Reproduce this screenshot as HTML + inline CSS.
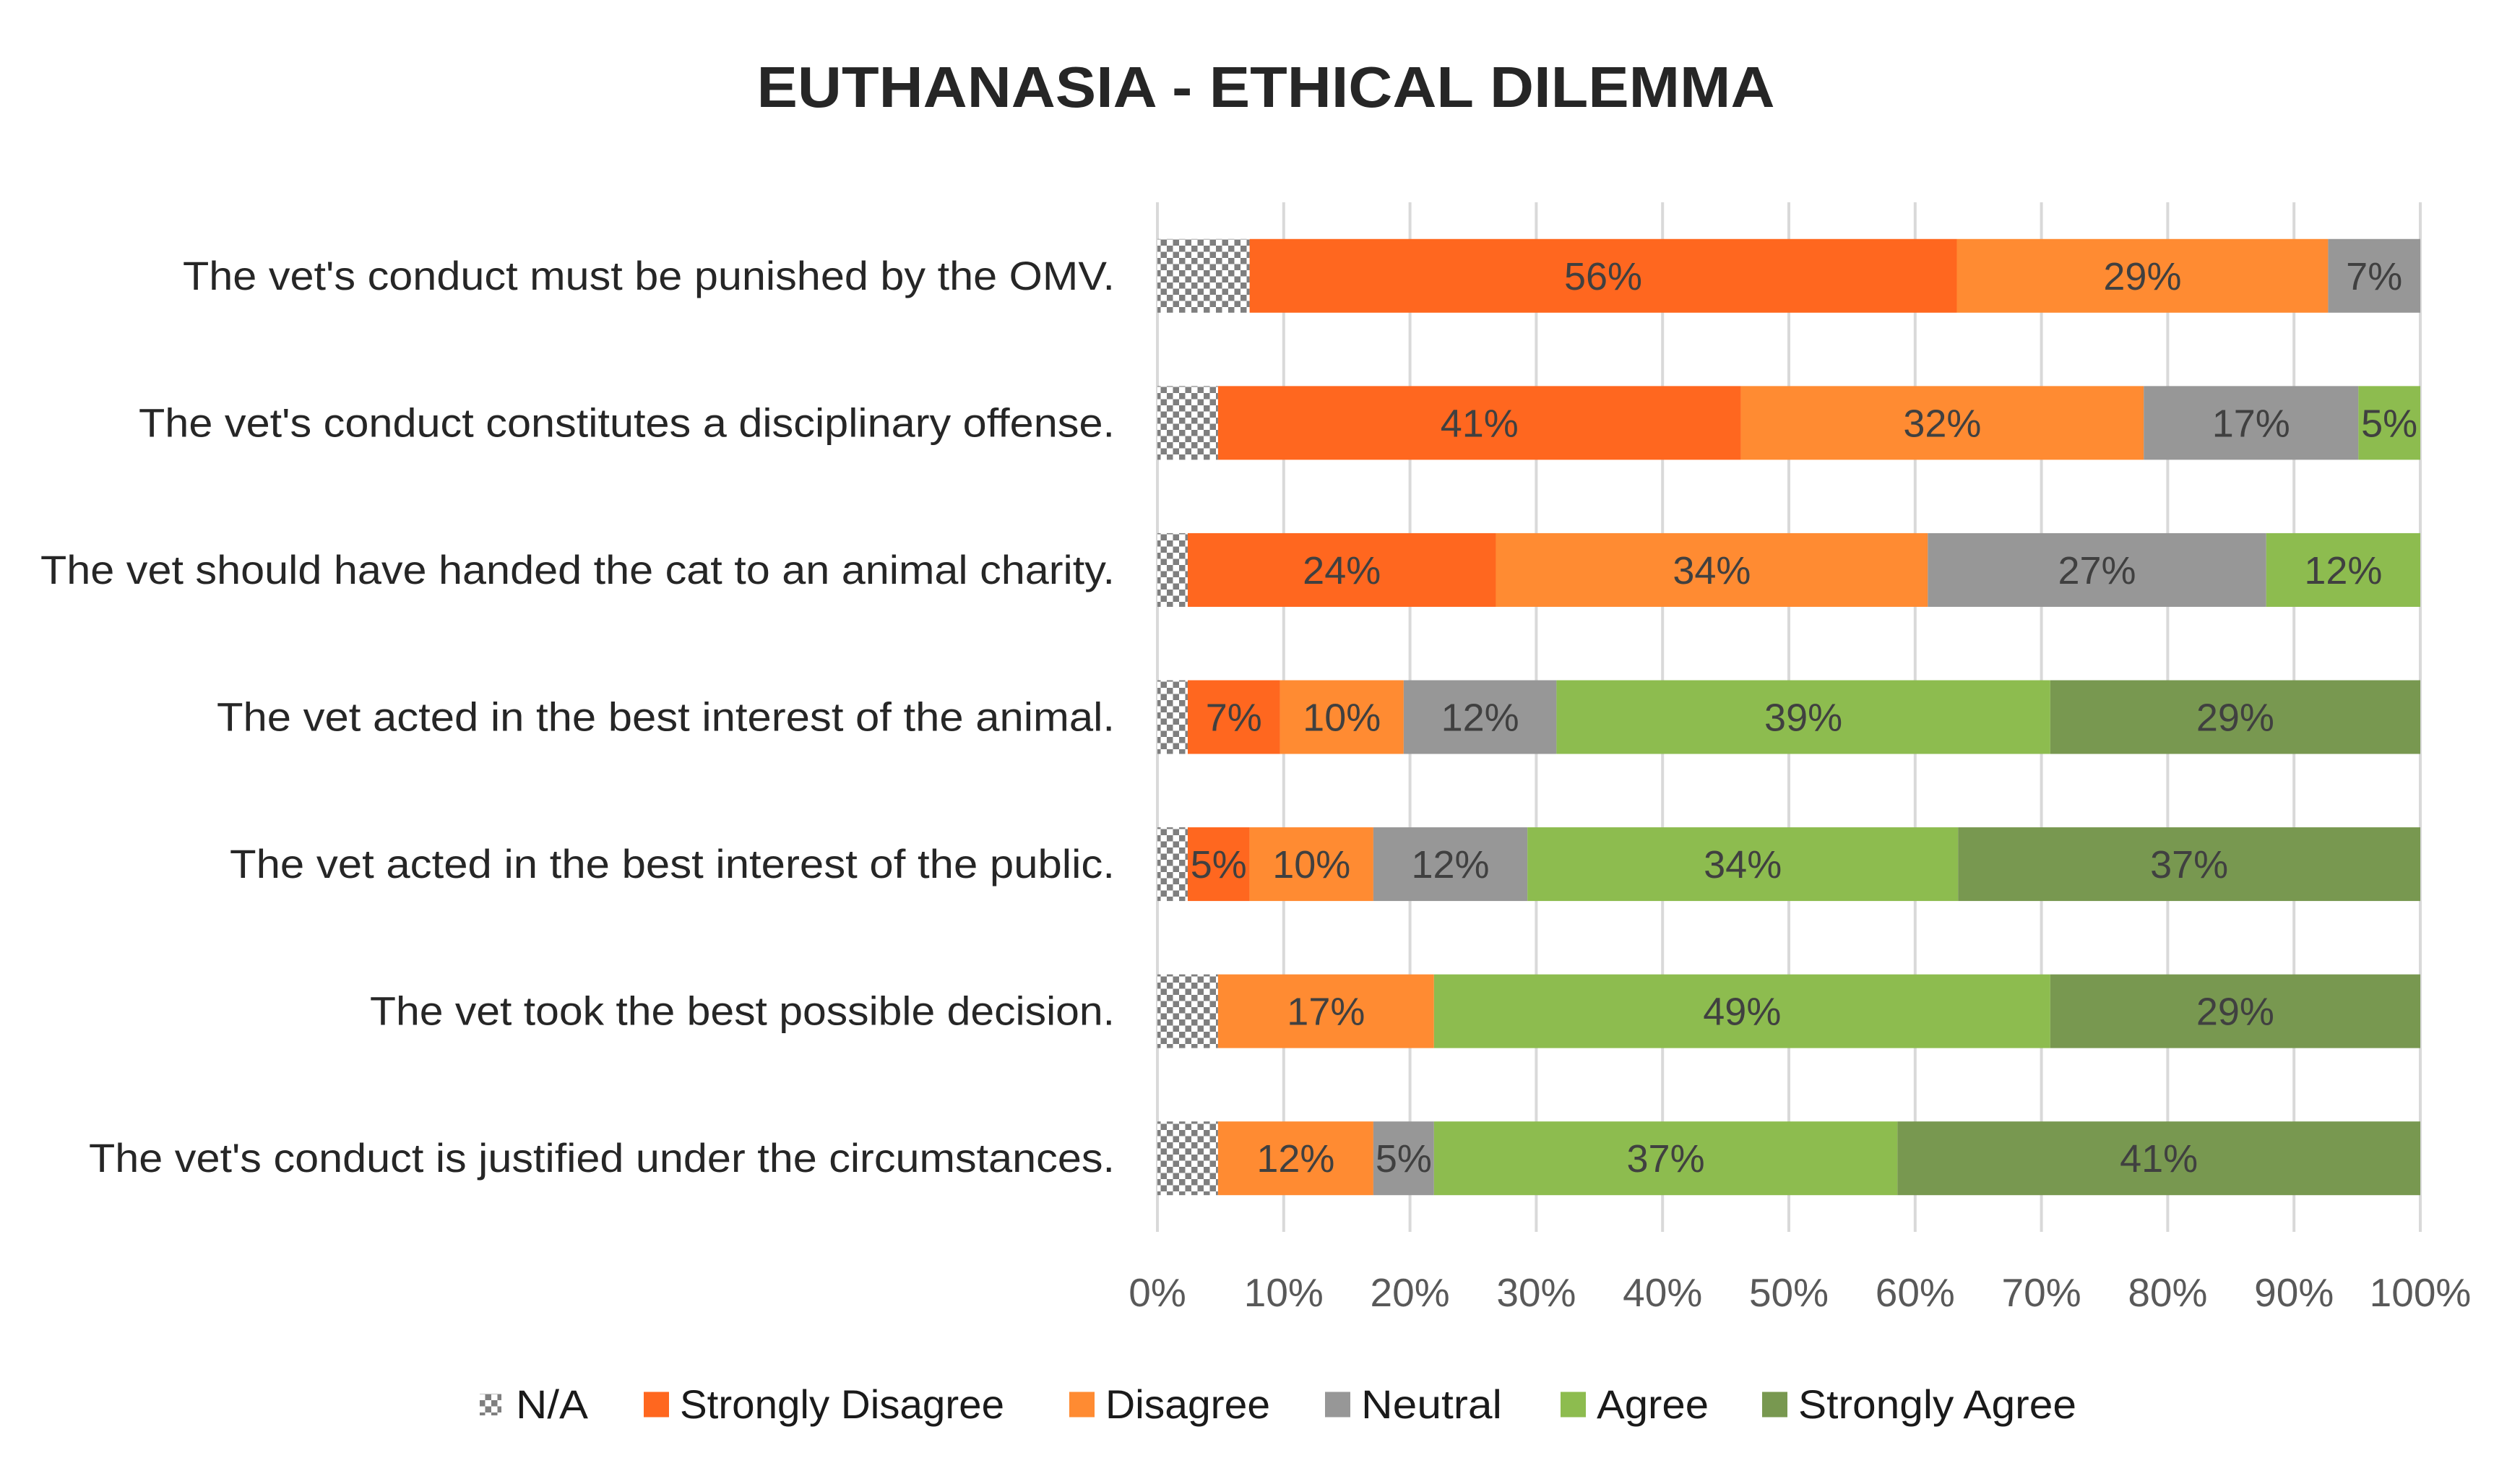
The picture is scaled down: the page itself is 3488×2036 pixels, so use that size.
<!DOCTYPE html>
<html><head><meta charset="utf-8"><style>
html,body{margin:0;padding:0;background:#fff;}
svg{display:block;font-family:"Liberation Sans",sans-serif;}
</style></head><body>
<svg id="chart" width="3488" height="2036" viewBox="0 0 3488 2036" xmlns="http://www.w3.org/2000/svg">
<defs>
<pattern id="checker" width="17" height="17" patternUnits="userSpaceOnUse">
<rect width="17" height="17" fill="#ffffff"/>
<rect x="0" y="0" width="8.5" height="8.5" fill="#7f7f7f"/>
<rect x="8.5" y="8.5" width="8.5" height="8.5" fill="#7f7f7f"/>
</pattern>
</defs>
<rect width="3488" height="2036" fill="#fff"/>
<text x="1752" y="148" text-anchor="middle" font-size="80" font-weight="bold" fill="#262626" textLength="1409" lengthAdjust="spacingAndGlyphs">EUTHANASIA - ETHICAL DILEMMA</text>
<g id="grid"></g>
<g id="bars"></g>
<g id="labels"></g>
<g id="ticks"></g>
<g id="legend"></g>
</svg>
<script>
const categories = [
 "The vet's conduct must be punished by the OMV.",
 "The vet's conduct constitutes a disciplinary offense.",
 "The vet should have handed the cat to an animal charity.",
 "The vet acted in the best interest of the animal.",
 "The vet acted in the best interest of the public.",
 "The vet took the best possible decision.",
 "The vet's conduct is justified under the circumstances."
];
const seriesNames = ["N/A","Strongly Disagree","Disagree","Neutral","Agree","Strongly Agree"];
const naValues = [7.3, 4.8, 2.4, 2.4, 2.4, 4.8, 4.8];
const stronglyDisagree = [56.0, 41.4, 24.4, 7.3, 4.9, 0, 0];
const disagree = [29.4, 31.9, 34.2, 9.8, 9.8, 17.1, 12.3];
const neutral = [7.3, 17.0, 26.8, 12.1, 12.2, 0, 4.8];
const agree = [0, 4.9, 12.2, 39.1, 34.1, 48.8, 36.7];
const stronglyAgree = [0, 0, 0, 29.3, 36.6, 29.3, 41.4];
const tickValues = [0,10,20,30,40,50,60,70,80,90,100];
const labelWidths = [1290, 1351, 1487, 1243, 1225, 1031, 1420];

const NS = "http://www.w3.org/2000/svg";
const X0 = 1602, X1 = 3350, YT = 280, YB = 1705;
const band = (YB - YT) / categories.length, barH = 102;
const xs = v => X0 + (v / 100) * (X1 - X0);
const yc = i => YT + band * (i + 0.5);
const fills = ["url(#checker)","#FF671F","#FF8B32","#979797","#8DBC4F","#789850"];
const series = [naValues, stronglyDisagree, disagree, neutral, agree, stronglyAgree];
function mk(tag, attrs, parent){const e=document.createElementNS(NS,tag);for(const k in attrs)e.setAttribute(k,attrs[k]);parent.appendChild(e);return e;}

const grid = document.getElementById('grid');
tickValues.forEach(t=>{
  const l = mk('line',{x1:xs(t),x2:xs(t),y1:YT,y2:YB,stroke:'#d9d9d9','stroke-width':4},grid);
  
  
  const tx = mk('text',{x:xs(t),y:1808,'text-anchor':'middle','font-size':55,fill:'#595959'},document.getElementById('ticks'));
  tx.textContent = t + '%';
  
  
});

const bars = document.getElementById('bars');
categories.forEach((c,i)=>{
  let acc = 0;
  series.forEach((s,k)=>{
    const v = s[i];
    if(v<=0){return;}
    const r = mk('rect',{x:xs(acc),y:yc(i)-barH/2,width:xs(acc+v)-xs(acc),height:barH,fill:fills[k]},bars);
    
    
    if(k>0){
      const t = mk('text',{x:(xs(acc)+xs(acc+v))/2,y:yc(i)+19,'text-anchor':'middle','font-size':54,fill:'#404040'},bars);
      t.textContent = Math.round(v)+'%';
      
      
    }
    acc += v;
  });
  const lb = mk('text',{x:1543,y:yc(i)+19,'text-anchor':'end','font-size':56,fill:'#262626',textLength:labelWidths[i],lengthAdjust:'spacingAndGlyphs'},document.getElementById('labels'));
  lb.textContent = c;
  
  
});

const legend = document.getElementById('legend');
const lgMarkX = [664, 891, 1480, 1834, 2160, 2439];
const lgWidths = [100, 449, 228, 195, 155, 385];
seriesNames.forEach((n,k)=>{
  const g = mk('g',{},legend);
  
  
  const sz = k===0?30:35;
  mk('rect',{x:lgMarkX[k],y:1944-sz/2,width:sz,height:sz,fill:fills[k]},g);
  const t = mk('text',{x:lgMarkX[k]+50,y:1963,'font-size':56,fill:'#1a1a1a',textLength:lgWidths[k],lengthAdjust:'spacingAndGlyphs'},g);
  t.textContent = n;
});
</script>
</body></html>
